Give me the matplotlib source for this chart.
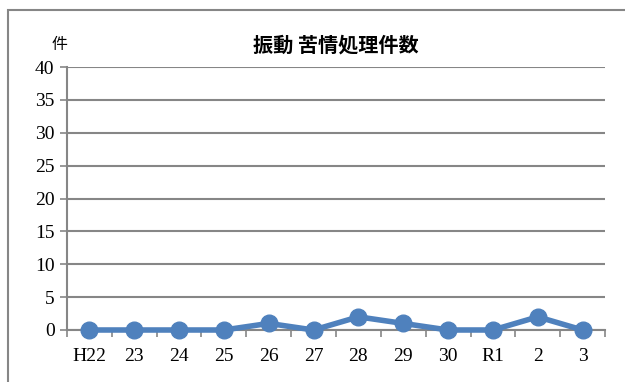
import numpy as np
import matplotlib.pyplot as plt
from matplotlib.patches import Rectangle

years = ['H22', '23', '24', '25', '26', '27', '28', '29', '30', 'R1', '2', '3']
counts = [0, 0, 0, 0, 1, 0, 2, 1, 0, 0, 2, 0]
yticks = [0, 5, 10, 15, 20, 25, 30, 35, 40]

plt.rcParams['font.family'] = ['Liberation Serif', 'Noto Sans CJK JP']

W, H = 625, 382
fig = plt.figure(figsize=(W/100, H/100), dpi=100)

# outer chart frame (cut off at right/bottom in the reference)
fig.patches.append(Rectangle((8/W, -0.05), 1.2, 1 - 10/H + 0.05, transform=fig.transFigure,
                             fill=False, edgecolor='#868686', linewidth=1.5))

ax = fig.add_axes([67/W, 1 - 330/H, (605 - 67)/W, (330 - 67)/H])
x = np.arange(len(years))
ax.plot(x, counts, color='#4F81BD', linewidth=4, marker='o', markersize=12,
        zorder=3, clip_on=False)

ax.set_xlim(-0.5, len(years) - 0.5)
ax.set_ylim(0, 40)
ax.set_yticks(yticks)
ax.yaxis.grid(True, color='#868686', linewidth=1.5)
ax.set_axisbelow(True)
for s in ['top', 'right']:
    ax.spines[s].set_visible(False)
ax.spines['left'].set_color('#868686')
ax.spines['bottom'].set_color('#868686')
ax.spines['left'].set_linewidth(1.5)
ax.spines['bottom'].set_linewidth(1.5)

ax.set_xticks(x)
ax.set_xticklabels(years)
ax.set_xticks(np.arange(-0.5, len(years)), minor=True)
ax.tick_params(axis='x', which='major', length=0, pad=13, labelsize=14)
ax.tick_params(axis='x', which='minor', length=5, color='#868686', width=1.2)
ax.tick_params(axis='y', length=5, color='#868686', width=1.2, labelsize=14, pad=4)

fig.text(336/W, 1 - 45/H, '振動 苦情処理件数', ha='center', va='center',
         fontsize=14.5, fontweight='bold', family=['Noto Sans CJK JP'])
fig.text(60/W, 1 - 45/H, '件', ha='center', va='center', fontsize=11.5,
         family=['Noto Sans CJK JP'])

fig.savefig('out.png', dpi=100)
